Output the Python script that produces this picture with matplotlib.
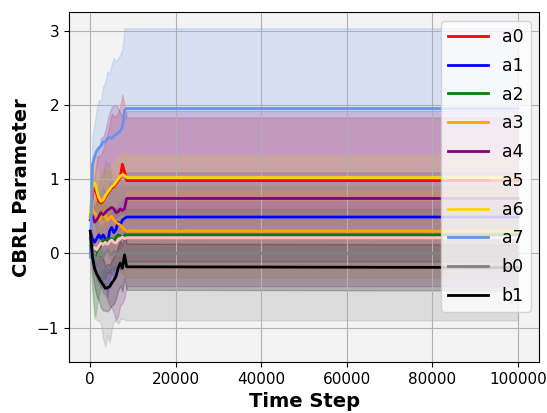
import matplotlib

matplotlib.use("Agg")

import matplotlib.pyplot as plt
import numpy as np

# time steps: noisy early phase, then constant up to the end of the run
steps = [0, 500, 1000, 1500, 2000, 2500, 3000, 3500, 4000, 4500,
         5000, 5500, 6000, 6500, 7000, 7500, 8000, 8500, 100000]

labels = ["a0", "a1", "a2", "a3", "a4", "a5", "a6", "a7", "b0", "b1"]
colors = ["red", "blue", "green", "orange", "purple", "pink", "gold",
          "cornflowerblue", "gray", "black"]

a0_mean = [0.5, 0.8, 0.9, 0.8, 0.7, 0.68, 0.7, 0.76, 0.8, 0.84, 0.88, 0.9, 0.94, 0.98, 1.02, 1.2, 1.1, 0.98, 0.98]
a0_std = [0.1, 0.3, 0.45, 0.5, 0.6, 0.65, 0.7, 0.75, 0.8, 0.9, 1.0, 0.95, 0.9, 0.92, 0.95, 0.94, 0.9, 0.85, 0.85]

a1_mean = [0.3, 0.2, 0.15, 0.2, 0.25, 0.2, 0.25, 0.2, 0.12, 0.3, 0.35, 0.28, 0.32, 0.42, 0.38, 0.45, 0.47, 0.49, 0.49]
a1_std = [0.1, 0.3, 0.4, 0.5, 0.55, 0.6, 0.65, 0.6, 0.7, 0.65, 0.6, 0.62, 0.6, 0.58, 0.6, 0.6, 0.6, 0.6, 0.6]

a2_mean = [0.1, -0.05, -0.08, -0.02, 0.05, 0.12, 0.18, 0.15, 0.2, 0.18, 0.2, 0.16, 0.22, 0.25, 0.24, 0.22, 0.24, 0.25, 0.25]
a2_std = [0.1, 0.5, 0.8, 0.7, 0.6, 0.55, 0.5, 0.5, 0.45, 0.45, 0.4, 0.4, 0.38, 0.36, 0.35, 0.35, 0.35, 0.35, 0.35]

a3_mean = [0.5, 0.6, 0.55, 0.5, 0.45, 0.5, 0.55, 0.5, 0.45, 0.48, 0.5, 0.45, 0.42, 0.4, 0.38, 0.35, 0.32, 0.30, 0.30]
a3_std = [0.1, 0.3, 0.4, 0.5, 0.55, 0.6, 0.6, 0.62, 0.65, 0.6, 0.62, 0.6, 0.62, 0.6, 0.62, 0.62, 0.62, 0.62, 0.62]

a4_mean = [0.45, 0.5, 0.42, 0.45, 0.5, 0.55, 0.52, 0.55, 0.58, 0.6, 0.62, 0.6, 0.55, 0.56, 0.6, 0.58, 0.6, 0.74, 0.74]
a4_std = [0.1, 0.4, 0.6, 0.8, 0.9, 1.0, 1.05, 1.1, 1.2, 1.3, 1.35, 1.4, 1.45, 1.4, 1.3, 1.25, 1.2, 1.18, 1.18]

a5_mean = [0.15, 0.05, 0.08, 0.05, 0.1, 0.14, 0.12, 0.15, 0.12, 0.16, 0.18, 0.15, 0.14, 0.18, 0.2, 0.22, 0.2, 0.21, 0.21]
a5_std = [0.1, 0.3, 0.4, 0.4, 0.35, 0.35, 0.3, 0.3, 0.32, 0.3, 0.3, 0.3, 0.3, 0.3, 0.3, 0.3, 0.3, 0.3, 0.3]

a6_mean = [0.55, 0.9, 0.95, 0.85, 0.75, 0.7, 0.72, 0.78, 0.82, 0.86, 0.9, 0.92, 0.96, 1.0, 1.04, 1.06, 1.05, 1.02, 1.02]
a6_std = [0.1, 0.2, 0.25, 0.3, 0.3, 0.32, 0.3, 0.3, 0.28, 0.3, 0.3, 0.3, 0.3, 0.3, 0.3, 0.3, 0.3, 0.3, 0.3]

a7_mean = [-0.05, 1.2, 1.3, 1.38, 1.42, 1.45, 1.5, 1.5, 1.55, 1.56, 1.55, 1.58, 1.6, 1.62, 1.65, 1.7, 1.93, 1.95, 1.95]
a7_std = [0.1, 0.35, 0.45, 0.55, 0.65, 0.6, 0.75, 0.8, 0.9, 0.85, 1.0, 1.05, 0.98, 1.0, 1.02, 1.05, 1.1, 1.08, 1.08]

b0_mean = [0.2, 0.05, -0.05, -0.1, 0.0, 0.05, -0.05, 0.0, 0.05, 0.0, -0.02, 0.03, 0.0, -0.03, 0.02, 0.0, 0.01, 0.0, 0.0]
b0_std = [0.2, 0.5, 0.7, 0.8, 0.9, 1.0, 1.1, 1.25, 1.15, 1.2, 1.0, 0.95, 0.9, 0.92, 0.9, 0.88, 0.9, 0.9, 0.9]

b1_mean = [0.3, -0.05, -0.2, -0.28, -0.33, -0.38, -0.42, -0.47, -0.46, -0.45, -0.4, -0.36, -0.31, -0.2, -0.13, -0.2, -0.02, -0.18, -0.19]
b1_std = [0.1, 0.2, 0.25, 0.3, 0.3, 0.35, 0.35, 0.3, 0.32, 0.3, 0.3, 0.32, 0.3, 0.3, 0.3, 0.31, 0.31, 0.31, 0.31]

means = [a0_mean, a1_mean, a2_mean, a3_mean, a4_mean,
         a5_mean, a6_mean, a7_mean, b0_mean, b1_mean]
stds = [a0_std, a1_std, a2_std, a3_std, a4_std,
        a5_std, a6_std, a7_std, b0_std, b1_std]

fig, ax = plt.subplots(figsize=(5.47, 4.13), dpi=100)
fig.subplots_adjust(left=0.126, right=0.986, top=0.970, bottom=0.123)
ax.set_facecolor("#f3f3f3")

x = np.array(steps)
for label, color, mean, std in zip(labels, colors, means, stds):
    mean = np.array(mean)
    std = np.array(std)
    ax.plot(x, mean, color=color, linewidth=2, label=label)
    ax.fill_between(x, mean - std, mean + std, color=color, alpha=0.2)

ax.grid(True)
ax.set_xlabel("Time Step", fontsize=14, fontweight="bold")
ax.set_ylabel("CBRL Parameter", fontsize=14, fontweight="bold")
ax.tick_params(labelsize=11)
ax.legend(loc="upper right", fontsize=12.5, handlelength=2.3, labelspacing=0.62)

fig.savefig("out.png", dpi=100)
plt.close(fig)
